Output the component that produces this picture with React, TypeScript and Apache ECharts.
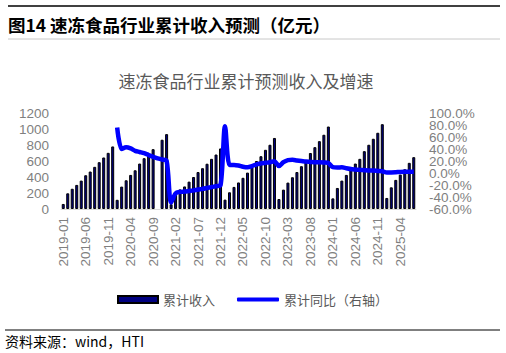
import React, { useEffect, useRef } from "react";
import * as echarts from "echarts";

const months: string[] = [];
for (let y = 2019; y <= 2025; y++) {
  for (let m = 1; m <= 12; m++) {
    if (y === 2025 && m > 7) break;
    months.push(`${y}-${m < 10 ? "0" + m : m}`);
  }
}

const revenue2019 = [63, 196, 253, 301, 355, 422, 468, 527, 585, 644, 702, 782];
const revenue2020 = [115, 280, 359, 426, 484, 568, 635, 685, 748, null, 866, 936];
const revenue2021 = [60, 205, 245, 282, 342, 400, 462, 510, 566, 627, 681, 757];
const revenue2022 = [117, 209, 276, 332, 390, 455, 522, 600, 660, 740, 803, 888];
const revenue2023 = [125, 242, 330, 397, 462, 535, 606, 700, 773, 848, 928, 1031];
const revenue2024 = [133, 263, 355, 426, 493, 568, 627, 723, 803, 878, 953, 1060];
const revenue2025 = [138, 271, 364, 430, 497, 577, 648];

const yoy2019 = [null, null, null, null, null, null, null, null, null, null, null, null];
const yoy2020 = [76, 40, 43, 41, 37, 35, 33, 30, 27, 24.5, 22.5, 20.5];
const yoy2021 = [-49, -34, -31.5, -31, -30, -29, -27.5, -26.5, -25, -23.5, -22, -20.5];
const yoy2022 = [78, 13.5, 13.5, 12.5, 10.5, 9.5, 11.5, 14.5, 16, 17, 18, 19.5];
const yoy2023 = [11.5, 18, 21.5, 22, 21, 20, 19, 18.5, 18, 18, 17.5, 16.5];
const yoy2024 = [9.7, 9.2, 9.5, 8, 6.5, 5.8, 5.2, 4.7, 4.2, 4, 3.5, 3];
const yoy2025 = [1, 1, 1.3, 1.8, 1.9, 1.9, 1.9];

const revenue = [
  ...revenue2019, ...revenue2020, ...revenue2021, ...revenue2022,
  ...revenue2023, ...revenue2024, ...revenue2025,
];
const yoy = [
  ...yoy2019, ...yoy2020, ...yoy2021, ...yoy2022,
  ...yoy2023, ...yoy2024, ...yoy2025,
];

const LAT = "'Liberation Sans', Arial, sans-serif";
const CJK = "'Noto Sans CJK SC', sans-serif";
const GRAY = "#7f7f7f";

// right axis: labels split over two coincident axes so none get hidden
const rightAxis = (showEven: boolean) => ({
  type: "value",
  position: "right",
  min: -60,
  max: 100,
  interval: 20,
  splitLine: { show: false },
  axisLine: { show: false },
  axisTick: { show: false },
  axisLabel: {
    margin: 13,
    color: GRAY,
    fontSize: 13.5,
    fontFamily: LAT,
    showMinLabel: true,
    showMaxLabel: true,
    formatter: (v: number) => {
      const even = Math.round((v + 60) / 20) % 2 === 0;
      return even === showEven ? v.toFixed(1) + "%" : "";
    },
  },
});

export default function App() {
  const ref = useRef<HTMLDivElement>(null);
  useEffect(() => {
    if (!ref.current) return;
    const chart = echarts.init(ref.current, null, { renderer: "svg" });
    const legendText = { color: "#595959", fontSize: 13, fontFamily: CJK };
    chart.setOption({
      animation: false,
      backgroundColor: "#fff",
      grid: { left: 61, right: 90, top: 113, height: 96 },
      legend: [
        {
          left: 112,
          top: 288,
          itemWidth: 40,
          itemHeight: 7,
          textStyle: legendText,
          data: [{ name: "累计收入", icon: "rect" }],
        },
        {
          left: 232,
          top: 288,
          itemWidth: 42,
          itemHeight: 4,
          textStyle: legendText,
          data: [
            {
              name: "累计同比（右轴）",
              icon: "roundRect",
              itemStyle: { color: "#0000ff", borderWidth: 0 },
            },
          ],
        },
      ],
      xAxis: {
        type: "category",
        data: months,
        boundaryGap: true,
        axisLine: { lineStyle: { color: "#d9d9d9", width: 1 } },
        axisTick: { interval: 4, length: 4, lineStyle: { color: "#d9d9d9" } },
        axisLabel: {
          interval: 4,
          rotate: 90,
          margin: 8,
          color: GRAY,
          fontSize: 13.5,
          fontFamily: LAT,
        },
      },
      yAxis: [
        {
          type: "value",
          min: 0,
          max: 1200,
          interval: 200,
          splitLine: { show: false },
          axisLine: { show: false },
          axisTick: { show: false },
          axisLabel: {
            margin: 12,
            color: GRAY,
            fontSize: 13.5,
            fontFamily: LAT,
            formatter: (v: number) => String(v),
          },
        },
        rightAxis(true),
        rightAxis(false),
      ],
      series: [
        {
          name: "累计收入",
          type: "bar",
          data: revenue,
          barWidth: 3,
          itemStyle: { color: "#000080", borderColor: "#000", borderWidth: 1 },
        },
        {
          name: "累计同比（右轴）",
          type: "line",
          yAxisIndex: 1,
          data: yoy,
          symbol: "none",
          smooth: 0.3,
          lineStyle: { color: "#0000ff", width: 4.5 },
          itemStyle: { color: "#0000ff" },
        },
      ],
      graphic: [
        { type: "line", shape: { x1: 8, y1: 6, x2: 500, y2: 6 }, style: { stroke: "#000", lineWidth: 1.5 } },
        {
          type: "text",
          x: 8,
          y: 24,
          style: {
            text: "图14 速冻食品行业累计收入预测（亿元）",
            font: `bold 17.5px ${CJK}`,
            fill: "#000",
            verticalAlign: "middle",
          },
        },
        { type: "line", shape: { x1: 8, y1: 39, x2: 500, y2: 39 }, style: { stroke: "#c8c8c8", lineWidth: 1 } },
        {
          type: "text",
          x: 246,
          y: 80,
          style: {
            text: "速冻食品行业累计预测收入及增速",
            font: `17px ${CJK}`,
            fill: "#595959",
            align: "center",
            verticalAlign: "middle",
          },
        },
        { type: "line", shape: { x1: 5, y1: 330, x2: 500, y2: 330 }, style: { stroke: "#000", lineWidth: 1 } },
        {
          type: "text",
          x: 5,
          y: 341,
          style: {
            text: "资料来源：wind，HTI",
            font: `14px ${CJK}`,
            fill: "#000",
            verticalAlign: "middle",
          },
        },
      ],
    });
    return () => chart.dispose();
  }, []);
  return (
    <div
      ref={ref}
      style={{ position: "fixed", left: 0, top: 0, width: 506, height: 353 }}
    />
  );
}
